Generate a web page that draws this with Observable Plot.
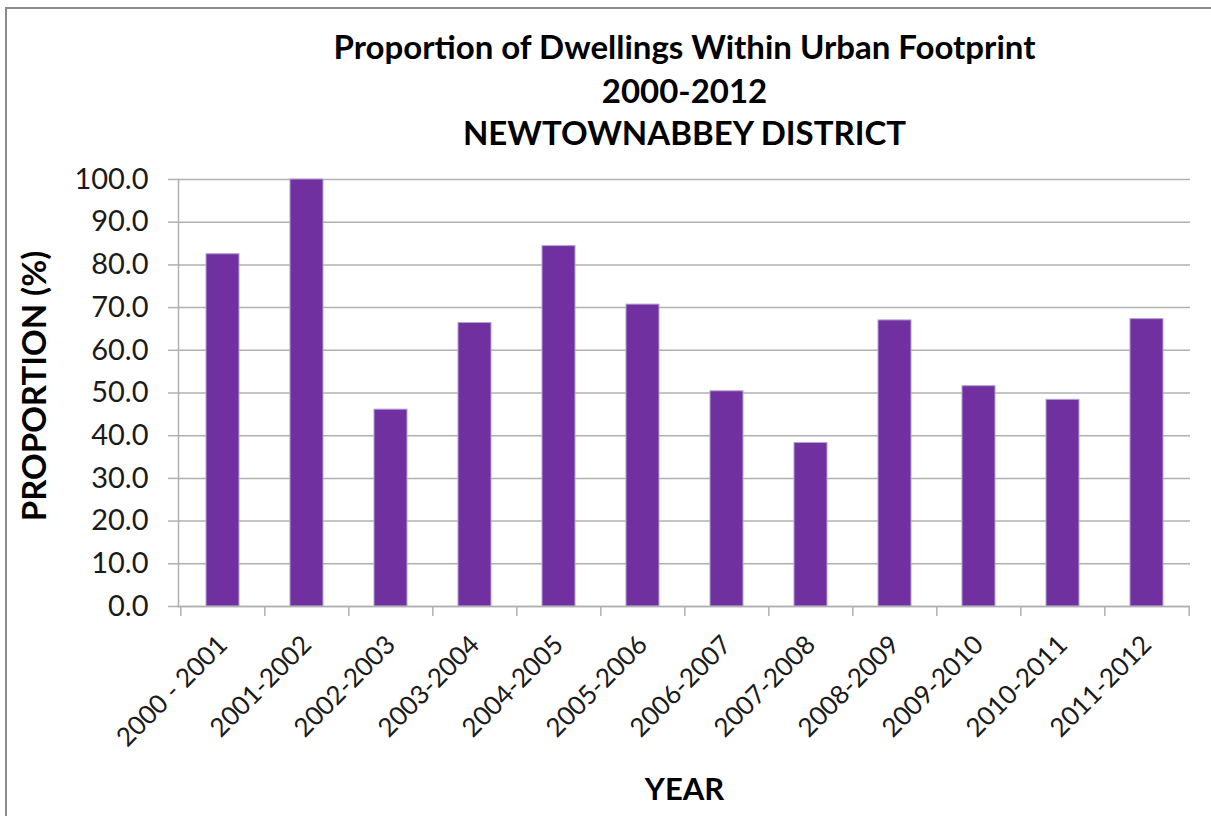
<!DOCTYPE html>
<html>
<head>
<meta charset="utf-8">
<script src="https://cdn.jsdelivr.net/npm/d3@7"></script>
<script src="https://cdn.jsdelivr.net/npm/@observablehq/plot@0.6"></script>
<style>
  html, body { margin: 0; padding: 0; background: #fff; }
  #wrap { position: relative; width: 1211px; height: 816px; overflow: hidden; }
  #border { position: absolute; left: 5px; top: 7px; width: 1240px; height: 900px;
            border-left: 2px solid #8c8c8c; border-top: 2px solid #8c8c8c; box-sizing: border-box; }
  #chart { position: absolute; left: 0; top: 0; }
</style>
</head>
<body>
<div id="wrap"><div id="border"></div><div id="chart"></div></div>
<script>
const categories = ["2000 - 2001","2001-2002","2002-2003","2003-2004","2004-2005","2005-2006",
                    "2006-2007","2007-2008","2008-2009","2009-2010","2010-2011","2011-2012"];
const values = [82.5, 100.0, 46.1, 66.4, 84.4, 70.7, 50.4, 38.3, 67.0, 51.6, 48.4, 67.3];
const yTicks = [0,10,20,30,40,50,60,70,80,90,100];
const titleLines = ["Proportion of Dwellings Within Urban Footprint", "2000-2012", "NEWTOWNABBEY DISTRICT"];
const yLabel = "PROPORTION (%)";
const xLabel = "YEAR";

const data = categories.map((c, i) => ({category: c, value: values[i]}));

const W = 1211, H = 816;
const mL = 178, mR = 21, mT = 179, mB = 210;
const step = (W - mL - mR) / categories.length;
const font = "Lato, 'Open Sans', sans-serif";
const grid = "#b0b0b0";
const titleStyle = {fontSize: 33, fontWeight: "bold", fill: "#000", lineAnchor: "middle"};

const chart = Plot.plot({
  width: W,
  height: H,
  marginLeft: mL,
  marginRight: mR,
  marginTop: mT,
  marginBottom: mB,
  style: {fontFamily: font, fontSize: "26px", color: "#1a1a1a", background: "transparent"},
  x: {domain: categories, paddingInner: 0.61, paddingOuter: 0.305, label: null},
  y: {domain: [0, 100], label: null},
  marks: [
    Plot.gridY(yTicks, {stroke: grid, strokeOpacity: 1, strokeWidth: 1.5}),
    Plot.axisY(yTicks, {tickSize: 10, tickPadding: 20, stroke: grid, strokeWidth: 1.5,
                        tickFormat: d3.format(".1f"), fontSize: 29, fill: "#1a1a1a", label: null}),
    Plot.axisX({tickSize: 0, tickRotate: -45, tickPadding: 34, fontSize: 26, fill: "#1a1a1a", label: null}),
    Plot.barY(data, {x: "category", y: "value", fill: "#7030a0", stroke: "#b7a0d2", strokeWidth: 1}),
    Plot.ruleY([0], {stroke: grid, strokeWidth: 1.5}),
    Plot.frame({anchor: "left", stroke: grid, strokeWidth: 1.5}),
    Plot.ruleX(categories, {x: d => d, dx: -step / 2, y1: 0, y2: 0, insetBottom: -10, stroke: grid, strokeWidth: 1.5}),
    Plot.ruleX(categories.slice(-1), {x: d => d, dx: step / 2, y1: 0, y2: 0, insetBottom: -10, stroke: grid, strokeWidth: 1.5}),
    Plot.text(titleLines.slice(0, 1), {text: d => d, frameAnchor: "top", dy: -131, ...titleStyle}),
    Plot.text(titleLines.slice(1, 2), {text: d => d, frameAnchor: "top", dy: -87, ...titleStyle}),
    Plot.text(titleLines.slice(2, 3), {text: d => d, frameAnchor: "top", dy: -45, ...titleStyle}),
    Plot.text([yLabel], {text: d => d, frameAnchor: "left", dx: -143, dy: -7, rotate: -90, textAnchor: "middle",
                         lineAnchor: "middle", fontSize: 33, fontWeight: "bold", fill: "#000"}),
    Plot.text([xLabel], {text: d => d, frameAnchor: "bottom", dy: 184, textAnchor: "middle",
                         lineAnchor: "middle", fontSize: 31, fontWeight: "bold", fill: "#000"})
  ]
});
document.getElementById("chart").appendChild(chart);
</script>
</body>
</html>
